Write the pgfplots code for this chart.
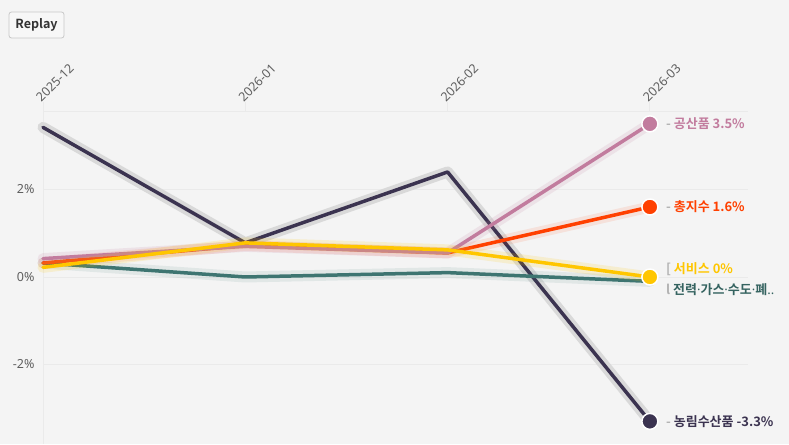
\documentclass[border=0pt]{standalone}
\usepackage{pgfplots}
\pgfplotsset{compat=1.18}
\usepackage{fontspec}
\setmainfont{Noto Sans}
\newfontfamily\kr{Noto Sans CJK KR}
\newfontfamily\krb{Noto Sans CJK KR Bold}
\newfontfamily\latb{Noto Sans}
\newcommand\md{{\latb\bfseries ·}}
\definecolor{bg}{HTML}{F4F4F4}
\definecolor{cdark}{HTML}{3B3350}
\definecolor{cmauve}{HTML}{C27C9E}
\definecolor{corange}{HTML}{FF4000}
\definecolor{cyellow}{HTML}{FFC600}
\definecolor{cteal}{HTML}{3E7571}
\definecolor{gridc}{HTML}{EAEAEA}
\definecolor{tickc}{HTML}{5F5F5F}
\pgfplotstableread{
x dark mauve orange yellow teal
0 3.42 0.42 0.32 0.22 0.32
1 0.78 0.70 0.72 0.78 0.00
2 2.40 0.55 0.55 0.62 0.10
3 -3.30 3.50 1.60 0.00 -0.10
}\datatab
\begin{document}
\begin{tikzpicture}[x=1pt,y=1pt]
\useasboundingbox (0,0) rectangle (789,444);
\fill[bg] (0,0) rectangle (789,444);
\begin{axis}[
  at={(43pt,0pt)}, anchor=south west,
  scale only axis, width=705pt, height=333pt,
  xmin=0, xmax=3.485, ymin=-3.817, ymax=3.794,
  axis line style={draw=none},
  clip=false,
  xtick={0,1,2,3},
  xticklabels={2025-12,2026-01,2026-02,2026-03},
  xticklabel pos=top, xtick pos=right,
  xtick align=outside, major tick length=9pt,
  x tick style={draw=gridc, line width=0.8pt},
  y tick style={draw=none},
  x tick label style={rotate=45, anchor=south west, font=\fontsize{12.5}{14}\selectfont, text=tickc, xshift=-5pt, yshift=-3pt},
  ytick={-2,0,2},
  yticklabels={-2\%,0\%,2\%},
  y tick label style={font=\fontsize{12.5}{14}\selectfont, text=tickc, xshift=-5pt},
  extra y ticks={3.794}, extra y tick labels={},
  extra y tick style={grid=major},
  extra x ticks={0}, extra x tick labels={},
  extra x tick style={grid=major, major tick length=0pt},
  ymajorgrids=true, xmajorgrids=false,
  major grid style={gridc, line width=0.8pt},
  every axis plot/.append style={line join=round, line cap=round},
]
% halos and lines
\addplot[no marks, draw=black!15, line width=11pt] table[x=x,y=dark]{\datatab};
\addplot[no marks, cdark, line width=3.5pt] table[x=x,y=dark]{\datatab};
\addplot[no marks, draw=cteal, draw opacity=0.10, line width=11pt] table[x=x,y=teal]{\datatab};
\addplot[no marks, cteal, line width=3.5pt] table[x=x,y=teal]{\datatab};
\addplot[no marks, draw=corange, draw opacity=0.10, line width=11pt] table[x=x,y=orange]{\datatab};
\addplot[no marks, corange, line width=3.5pt] table[x=x,y=orange]{\datatab};
\addplot[no marks, draw=cmauve, draw opacity=0.15, line width=11pt] table[x=x,y=mauve]{\datatab};
\addplot[no marks, cmauve, line width=3.5pt] table[x=x,y=mauve]{\datatab};
\addplot[no marks, draw=cyellow, draw opacity=0.15, line width=11pt] table[x=x,y=yellow]{\datatab};
\addplot[no marks, cyellow, line width=3.5pt] table[x=x,y=yellow]{\datatab};
% end markers
\addplot[only marks, mark=*, mark size=8pt, mark options={fill=cdark, draw=white, line width=1.5pt}] coordinates {(3,-3.30)};
\addplot[only marks, mark=*, mark size=8pt, mark options={fill=cmauve, draw=white, line width=1.5pt}] coordinates {(3,3.50)};
\addplot[only marks, mark=*, mark size=8pt, mark options={fill=corange, draw=white, line width=1.5pt}] coordinates {(3,1.60)};
\addplot[only marks, mark=*, mark size=8pt, mark options={fill=cyellow, draw=white, line width=1.5pt}] coordinates {(3,0.00)};
% labels
\node[anchor=west, inner sep=0pt, font=\krb\fontsize{13}{14}\selectfont] at (axis cs:3,3.50) [xshift=16pt] {\textcolor{black!30}{-} \textcolor{cmauve}{공산품 3.5\%}};
\node[anchor=west, inner sep=0pt, font=\krb\fontsize{13}{14}\selectfont] at (axis cs:3,1.60) [xshift=16pt] {\textcolor{black!30}{-} \textcolor{corange}{총지수 1.6\%}};
\node[anchor=west, inner sep=0pt, font=\krb\fontsize{13}{14}\selectfont] at (axis cs:3,0.00) [xshift=16pt, yshift=8pt] {\textcolor{black!30}{[} \textcolor{cyellow}{서비스 0\%}};
\node[anchor=west, inner sep=0pt, font=\krb\fontsize{13}{14}\selectfont] at (axis cs:3,0.00) [xshift=16pt, yshift=-13pt] {\textcolor{black!30}{l} \textcolor{cteal!85!black}{전력\md 가스\md 수도\md 폐{\latb\bfseries ..}}};
\node[anchor=west, inner sep=0pt, font=\krb\fontsize{13}{14}\selectfont] at (axis cs:3,-3.30) [xshift=16pt] {\textcolor{black!30}{-} \textcolor{cdark}{농림수산품 -3.3\%}};
\end{axis}
\node[draw=black!22, fill=white!97!black, rounded corners=2.5pt, line width=0.8pt, minimum width=55pt, minimum height=26pt, inner sep=0pt, font=\krb\fontsize{12.5}{14}\selectfont, text=black!80] at (36.5,419) {Replay};
\end{tikzpicture}
\end{document}
